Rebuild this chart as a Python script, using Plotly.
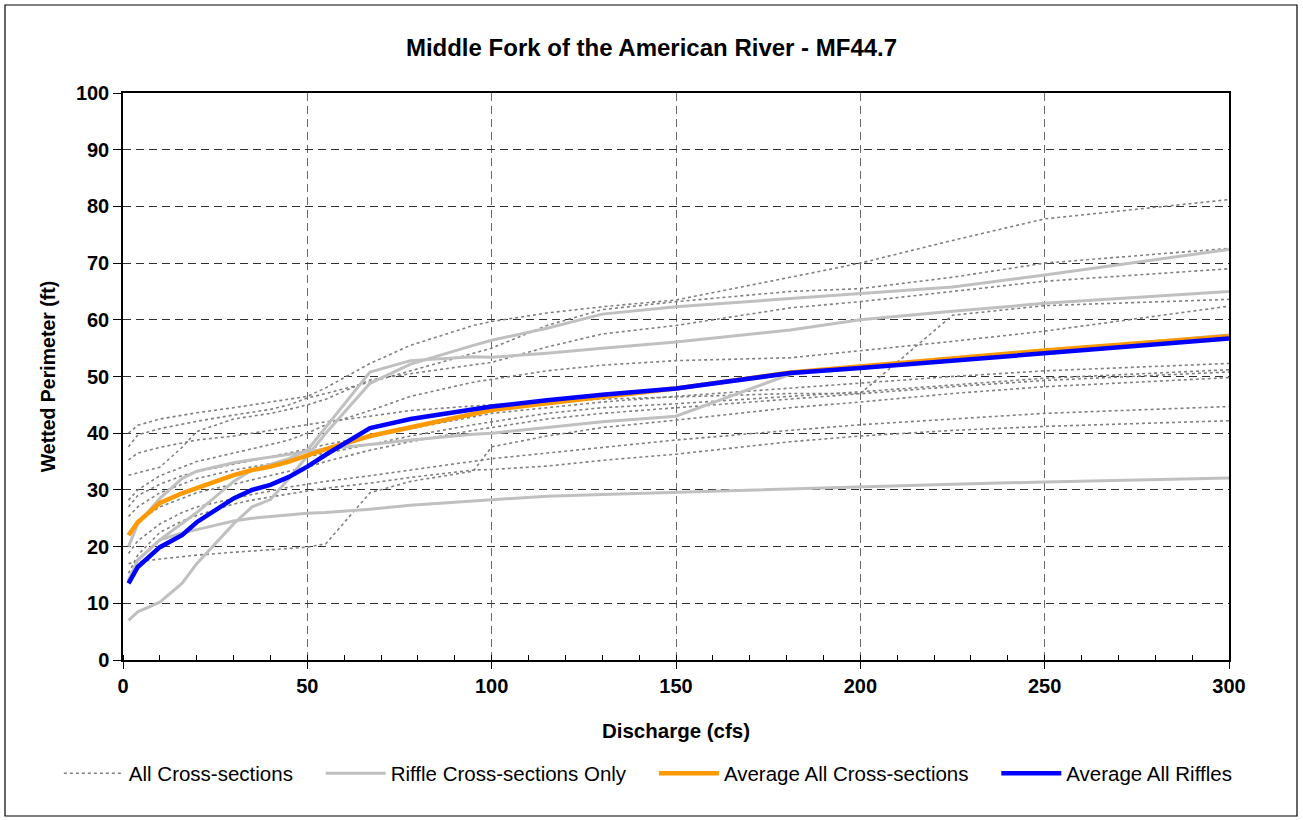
import plotly.graph_objects as go

# Discharge grid (cfs)
Q = [1.5, 4, 10, 16, 20, 30, 35, 40, 45, 50, 55, 67, 78, 95, 100, 115, 130, 150, 181, 200, 225, 250, 300]

# All cross-sections (wetted perimeter, ft)
xs_01 = [40.0, 41.4, 42.5, 43.2, 43.6, 44.5, 45.0, 45.5, 46.0, 46.5, 48.0, 52.3, 55.5, 59.0, 59.7, 61.2, 62.3, 63.5, 67.5, 70.0, 74.0, 77.8, 81.2]
xs_02 = [37.6, 39.7, 40.8, 41.6, 42.1, 43.2, 43.7, 44.2, 45.0, 46.2, 47.0, 49.0, 51.0, 54.0, 55.0, 59.0, 61.8, 63.2, 65.0, 65.5, 67.5, 70.0, 72.6]
xs_03 = [32.6, 33.0, 34.0, 37.5, 40.3, 42.5, 43.0, 43.5, 44.2, 45.0, 46.0, 49.4, 50.5, 52.0, 52.5, 55.2, 57.5, 59.0, 62.1, 63.2, 65.0, 66.8, 69.0]
xs_04 = [35.3, 36.5, 37.5, 38.3, 38.8, 39.5, 40.0, 40.5, 41.0, 41.5, 42.0, 43.0, 44.0, 44.8, 45.0, 45.6, 46.0, 46.4, 47.0, 47.0, 60.8, 62.5, 63.6]
xs_05 = [28.2, 30.0, 32.5, 34.0, 35.0, 36.5, 37.2, 38.0, 38.8, 40.0, 41.5, 44.0, 46.5, 49.0, 49.5, 51.0, 52.0, 52.8, 53.3, 54.5, 56.2, 58.0, 62.4]
xs_06 = [27.0, 29.0, 31.0, 32.5, 33.2, 34.5, 35.2, 35.8, 36.5, 37.2, 38.0, 39.5, 40.8, 43.0, 43.5, 44.5, 45.5, 46.5, 48.0, 48.8, 50.0, 51.0, 52.3]
xs_07 = [25.3, 27.0, 29.5, 31.0, 32.0, 33.5, 34.0, 34.6, 35.2, 35.8, 36.5, 38.0, 39.5, 41.5, 42.0, 43.5, 44.5, 45.2, 46.5, 47.3, 48.5, 49.7, 51.2]
xs_08 = [22.3, 24.5, 27.0, 28.5, 29.5, 31.0, 31.8, 32.5, 33.3, 34.0, 35.0, 37.0, 38.5, 40.5, 41.0, 42.5, 43.5, 44.5, 46.0, 47.0, 48.2, 49.3, 50.8]
xs_09 = [18.8, 21.0, 24.0, 26.0, 27.0, 28.5, 29.2, 29.8, 30.5, 31.0, 31.5, 32.5, 33.5, 35.0, 35.5, 36.5, 37.5, 38.8, 40.5, 41.5, 42.5, 43.5, 44.7]
xs_10 = [17.0, 17.3, 17.8, 18.2, 18.5, 19.0, 19.2, 19.5, 19.7, 19.9, 20.5, 29.5, 31.5, 33.3, 37.6, 39.5, 41.0, 42.3, 44.5, 45.5, 47.0, 48.2, 49.8]
xs_11 = [15.3, 18.5, 22.5, 24.5, 25.5, 27.5, 28.2, 28.8, 29.3, 29.8, 30.3, 31.2, 32.2, 33.5, 33.6, 34.2, 35.2, 36.3, 38.5, 39.5, 40.5, 41.2, 42.2]

# Riffle cross-sections
rf_A = [7.0, 8.5, 10.2, 13.5, 17.0, 24.0, 27.0, 28.3, 32.0, 36.0, 40.0, 48.8, 52.2, 55.5, 56.4, 58.5, 61.0, 62.3, 63.8, 64.6, 65.8, 67.9, 72.4]
rf_E = [14.0, 17.6, 21.2, 24.0, 26.0, 31.5, 33.5, 34.5, 35.5, 37.0, 41.0, 50.8, 52.8, 53.5, 53.4, 54.1, 55.0, 56.1, 58.2, 60.0, 61.5, 62.9, 65.0]
rf_C = [14.0, 17.6, 21.2, 22.4, 23.0, 24.5, 25.0, 25.3, 25.6, 25.9, 26.0, 26.6, 27.3, 28.0, 28.2, 28.9, 29.2, 29.6, 30.2, 30.6, 31.0, 31.4, 32.1]
rf_D = [20.0, 24.0, 28.5, 32.0, 33.3, 34.8, 35.3, 35.8, 36.3, 36.8, 37.2, 38.0, 38.8, 39.8, 40.0, 41.0, 42.0, 43.0, 50.4, 51.5, 53.0, 54.5, 57.3]

# Averages
avg_all = [22.0, 24.3, 27.7, 29.4, 30.3, 32.6, 33.5, 34.1, 35.0, 36.1, 37.2, 39.5, 41.0, 43.5, 44.1, 45.3, 46.5, 47.9, 50.7, 51.8, 53.3, 54.6, 57.1]
avg_riffles = [13.5, 16.4, 19.9, 22.0, 24.3, 28.5, 30.0, 30.9, 32.3, 34.1, 36.2, 40.9, 42.5, 44.3, 44.7, 45.8, 46.8, 47.9, 50.6, 51.5, 52.8, 54.0, 56.7]

all_sections = [xs_01, xs_02, xs_03, xs_04, xs_05, xs_06, xs_07, xs_08, xs_09, xs_10, xs_11]
riffles = [rf_A, rf_E, rf_C, rf_D]

legend_names = ["All Cross-sections", "Riffle Cross-sections Only",
                "Average All Cross-sections", "Average All Riffles"]

FONT = "Arial, Liberation Sans, sans-serif"
PAD = "\u00a0" * 4  # extra spacing after each legend entry


def lname(i):
    return legend_names[i] + PAD


fig = go.Figure()
for i, ys in enumerate(all_sections):
    fig.add_trace(go.Scatter(
        x=Q, y=ys, mode="lines", name=lname(0),
        legendgroup="all", showlegend=(i == 0),
        line=dict(color="#808080", width=1.6, dash="3px,3px")))
for i, ys in enumerate(riffles):
    fig.add_trace(go.Scatter(
        x=Q, y=ys, mode="lines", name=lname(1),
        legendgroup="rif", showlegend=(i == 0),
        line=dict(color="#C0C0C0", width=3)))
fig.add_trace(go.Scatter(x=Q, y=avg_all, mode="lines", name=lname(2),
                         line=dict(color="#FF9900", width=4.5)))
fig.add_trace(go.Scatter(x=Q, y=avg_riffles, mode="lines", name=lname(3),
                         line=dict(color="#0000FF", width=4.5)))

fig.update_layout(
    width=1303, height=820,
    margin=dict(l=123, r=74, t=93, b=160),
    paper_bgcolor="white", plot_bgcolor="white",
    font=dict(family=FONT, color="black"),
    title=dict(text="<b>Middle Fork of the American River - MF44.7</b>",
               x=0.5, xref="container", xanchor="center",
               y=1 - 48 / 820, yref="container", yanchor="middle",
               font=dict(size=24, family=FONT, color="black")),
    showlegend=True,
    legend=dict(orientation="h", x=-0.058, xanchor="left", y=-0.2, yanchor="middle",
                font=dict(size=20.5, family=FONT, color="black"),
                bgcolor="rgba(0,0,0,0)", itemwidth=60, tracegroupgap=0),
    xaxis=dict(range=[0, 300], dtick=50, tick0=0,
               showline=True, linecolor="black", linewidth=1.5, mirror=True,
               ticks="outside", ticklen=7, tickcolor="black",
               tickfont=dict(size=20, family=FONT, color="black"),
               tickprefix="<b>", ticksuffix="</b>",
               showgrid=True, gridcolor="#6a6a6a", gridwidth=1.3, griddash="8px,5px",
               minor=dict(dtick=10, ticks="inside", ticklen=5, tickcolor="black", showgrid=False),
               zeroline=False,
               title=dict(text="<b>Discharge (cfs)</b>", standoff=28,
                          font=dict(size=20.5, family=FONT, color="black"))),
    yaxis=dict(range=[0, 100], dtick=10, tick0=0,
               showline=True, linecolor="black", linewidth=1.5, mirror=True,
               ticks="outside", ticklen=8, tickcolor="black",
               tickfont=dict(size=20, family=FONT, color="black"),
               tickprefix="<b>", ticksuffix="</b>",
               showgrid=True, gridcolor="#303030", gridwidth=1, griddash="8px,5px",
               zeroline=False,
               title=dict(text="<b>Wetted Perimeter (ft)</b>", standoff=15,
                          font=dict(size=19.5, family=FONT, color="black"))),
    shapes=[dict(type="rect", xref="paper", yref="paper",
                 x0=(5 - 123) / 1106, x1=(1297 - 123) / 1106,
                 y0=(660 - 816) / 567, y1=(660 - 5) / 567,
                 line=dict(color="black", width=1.2), fillcolor="rgba(0,0,0,0)",
                 layer="below")],
)

fig.write_html("out.html")
